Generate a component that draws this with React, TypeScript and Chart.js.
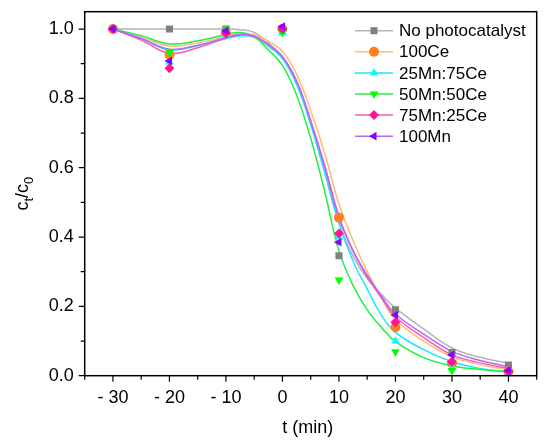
import { useEffect, useRef } from 'react';
import Chart from 'chart.js/auto';
import { drawPoint } from 'chart.js/helpers';

// measured points
const T = [-30, -20, -10, 0, 10, 20, 30, 40];
const noCat = [1, 1, 1, 1, 0.346, 0.19, 0.067, 0.031];
const ce100 = [1, 0.925, 0.99, 1.0, 0.456, 0.14, 0.036, 0.012];
const mn25 = [1, 0.905, 0.985, 0.99, 0.4, 0.1, 0.023, 0.005];
const mn50 = [1, 0.932, 1.0, 0.99, 0.276, 0.069, 0.015, 0.01];
const mn75 = [1, 0.887, 0.988, 1.0, 0.41, 0.154, 0.04, 0.012];
const mn100 = [1, 0.908, 0.995, 1.007, 0.385, 0.175, 0.06, 0.015];

// fitted curves
const FIT_T = [-30, -25, -20, -15, -10, -7.5, -5, -2.5, 0, 2.5, 5, 7.5, 10, 12.5, 15, 17.5, 20, 25, 30, 35, 40];
const noCatFit = [1, 1, 1, 1, 1, 0.998, 0.99, 0.96, 0.92, 0.845, 0.725, 0.585, 0.44, 0.345, 0.28, 0.235, 0.195, 0.135, 0.08, 0.053, 0.036];
const ce100Fit = [1, 0.977, 0.951, 0.96, 0.979, 0.985, 0.983, 0.965, 0.935, 0.87, 0.765, 0.64, 0.495, 0.39, 0.3, 0.225, 0.162, 0.1, 0.055, 0.032, 0.017];
const mn25Fit = [1, 0.972, 0.94, 0.952, 0.972, 0.98, 0.976, 0.95, 0.915, 0.84, 0.725, 0.585, 0.44, 0.33, 0.25, 0.175, 0.125, 0.075, 0.04, 0.021, 0.01];
const mn50Fit = [1, 0.981, 0.957, 0.966, 0.984, 0.99, 0.978, 0.94, 0.895, 0.81, 0.685, 0.53, 0.36, 0.26, 0.19, 0.14, 0.098, 0.052, 0.028, 0.018, 0.012];
const mn75Fit = [1, 0.968, 0.93, 0.946, 0.974, 0.983, 0.978, 0.955, 0.92, 0.85, 0.735, 0.605, 0.46, 0.36, 0.285, 0.225, 0.17, 0.11, 0.06, 0.037, 0.021];
const mn100Fit = [1, 0.973, 0.942, 0.953, 0.976, 0.985, 0.98, 0.955, 0.92, 0.85, 0.735, 0.6, 0.455, 0.36, 0.29, 0.23, 0.178, 0.12, 0.07, 0.044, 0.026];

const SERIES = [
  { label: 'No photocatalyst', pts: noCat, fit: noCatFit, marker: '#808080', line: '#b4b4b4', style: 'rect', rot: 0 },
  { label: '100Ce', pts: ce100, fit: ce100Fit, marker: '#ff8020', line: '#ffbb77', style: 'circle', rot: 0 },
  { label: '25Mn:75Ce', pts: mn25, fit: mn25Fit, marker: '#00ffff', line: '#1ee6ff', style: 'triangle', rot: 0 },
  { label: '50Mn:50Ce', pts: mn50, fit: mn50Fit, marker: '#00ff00', line: '#22ee44', style: 'triangle', rot: 180 },
  { label: '75Mn:25Ce', pts: mn75, fit: mn75Fit, marker: '#ff1493', line: '#ff5aa8', style: 'rectRot', rot: 0 },
  { label: '100Mn', pts: mn100, fit: mn100Fit, marker: '#8a00ff', line: '#b468ff', style: 'triangle', rot: -90 },
];

const FONT = '"Liberation Sans", Arial, sans-serif';

const decorPlugin = {
  id: 'decor',
  afterDraw(chart: any) {
    const { ctx, chartArea: a, scales } = chart;
    ctx.save();
    ctx.strokeStyle = '#000';
    ctx.lineWidth = 1.5;
    ctx.strokeRect(a.left, a.top, a.right - a.left, a.bottom - a.top);
    // ticks
    ctx.lineWidth = 1.2;
    ctx.beginPath();
    scales.x.ticks.forEach((t: any) => {
      const px = scales.x.getPixelForValue(t.value);
      const len = t.value % 10 === 0 ? 6 : 4;
      ctx.moveTo(px, a.bottom);
      ctx.lineTo(px, a.bottom + len);
    });
    scales.y.ticks.forEach((t: any) => {
      const py = scales.y.getPixelForValue(t.value);
      const major = Math.abs(t.value * 5 - Math.round(t.value * 5)) < 1e-6;
      ctx.moveTo(a.left, py);
      ctx.lineTo(a.left - (major ? 6 : 4), py);
    });
    ctx.stroke();

    // x title
    ctx.fillStyle = '#000';
    ctx.font = `18px ${FONT}`;
    ctx.textAlign = 'center';
    ctx.textBaseline = 'alphabetic';
    ctx.fillText('t (min)', (a.left + a.right) / 2 - 3, 433);

    // y title c_t/c_0
    ctx.save();
    ctx.translate(28, (a.top + a.bottom) / 2);
    ctx.rotate(-Math.PI / 2);
    const big = `18px ${FONT}`;
    const small = `13px ${FONT}`;
    const parts = [
      { s: 'c', f: big, dy: 0 },
      { s: 't', f: small, dy: 5 },
      { s: '/c', f: big, dy: 0 },
      { s: '0', f: small, dy: 5 },
    ];
    let w = 0;
    parts.forEach(p => { ctx.font = p.f; w += ctx.measureText(p.s).width; });
    let x = -w / 2;
    ctx.textAlign = 'left';
    parts.forEach(p => {
      ctx.font = p.f;
      ctx.fillText(p.s, x, p.dy);
      x += ctx.measureText(p.s).width;
    });
    ctx.restore();

    // legend
    const lx = 355, lw = 38;
    ctx.font = `17px ${FONT}`;
    ctx.textBaseline = 'middle';
    ctx.textAlign = 'left';
    SERIES.forEach((s, i) => {
      const y = 30.7 + i * 21.1;
      ctx.strokeStyle = s.line;
      ctx.lineWidth = 1.5;
      ctx.beginPath();
      ctx.moveTo(lx, y);
      ctx.lineTo(lx + lw, y);
      ctx.stroke();
      ctx.fillStyle = s.marker;
      ctx.strokeStyle = s.marker;
      drawPoint(ctx, { pointStyle: s.style as any, radius: 5, rotation: s.rot, borderWidth: 0 }, lx + lw / 2, y);
      ctx.fillStyle = '#000';
      ctx.fillText(s.label, 399, y + 1);
    });
    ctx.restore();
  },
};

export default function App() {
  const canvasRef = useRef<HTMLCanvasElement>(null);
  const chartRef = useRef<Chart | null>(null);

  useEffect(() => {
    if (!canvasRef.current) return;
    if (chartRef.current) chartRef.current.destroy();

    const fitSets = SERIES.map((s, i) => ({
      label: s.label + ' fit',
      data: FIT_T.map((t, j) => ({ x: t, y: s.fit[j] })),
      showLine: true,
      borderColor: s.line,
      borderWidth: 1.5,
      pointRadius: 0,
      tension: 0.4,
      order: 20 - i,
    }));
    const pointSets = SERIES.map((s, i) => ({
      label: s.label,
      data: T.map((t, j) => ({ x: t, y: s.pts[j] })),
      showLine: false,
      pointStyle: s.style,
      rotation: s.rot,
      pointRadius: 5,
      backgroundColor: s.marker,
      borderColor: s.marker,
      borderWidth: 0,
      order: 10 - i,
    }));

    chartRef.current = new Chart(canvasRef.current, {
      type: 'scatter',
      data: { datasets: [...fitSets, ...pointSets] as any },
      options: {
        responsive: true,
        maintainAspectRatio: false,
        animation: false,
        layout: { padding: { top: 11.7, right: 13.3, left: 0, bottom: 0 } },
        plugins: { legend: { display: false }, tooltip: { enabled: false } },
        scales: {
          x: {
            type: 'linear',
            min: -35,
            max: 45,
            grid: { display: false, drawTicks: false },
            border: { display: false },
            afterFit: (scale: any) => {
              scale.height = 72.3;
              scale.paddingLeft = 0;
              scale.paddingRight = 0;
            },
            ticks: {
              stepSize: 5,
              padding: 12,
              color: '#000',
              font: { family: FONT, size: 18 },
              maxRotation: 0,
              autoSkip: false,
              callback: (v: any) => {
                const n = Number(v);
                if (n % 10 !== 0 || n > 40 || n < -30) return '';
                return n < 0 ? '- ' + Math.abs(n) : String(n);
              },
            },
          },
          y: {
            type: 'linear',
            min: 0,
            max: 1.05,
            grid: { display: false, drawTicks: false },
            border: { display: false },
            afterFit: (scale: any) => {
              scale.width = 84.7;
              scale.paddingTop = 0;
              scale.paddingBottom = 0;
            },
            afterBuildTicks: (scale: any) => {
              scale.ticks = scale.ticks.filter((t: any) => Math.abs(t.value * 10 - Math.round(t.value * 10)) < 1e-6);
            },
            ticks: {
              stepSize: 0.1,
              includeBounds: false,
              padding: 11,
              color: '#000',
              font: { family: FONT, size: 18 },
              autoSkip: false,
              callback: (v: any) => {
                const n = Number(v);
                return Math.abs(n * 5 - Math.round(n * 5)) < 1e-6 ? n.toFixed(1) : '';
              },
            },
          },
        },
      },
      plugins: [decorPlugin],
    });

    return () => {
      if (chartRef.current) {
        chartRef.current.destroy();
        chartRef.current = null;
      }
    };
  }, []);

  return (
    <div style={{ position: 'fixed', left: 0, top: 0, width: 550, height: 448, background: '#fff' }}>
      <canvas ref={canvasRef} />
    </div>
  );
}
